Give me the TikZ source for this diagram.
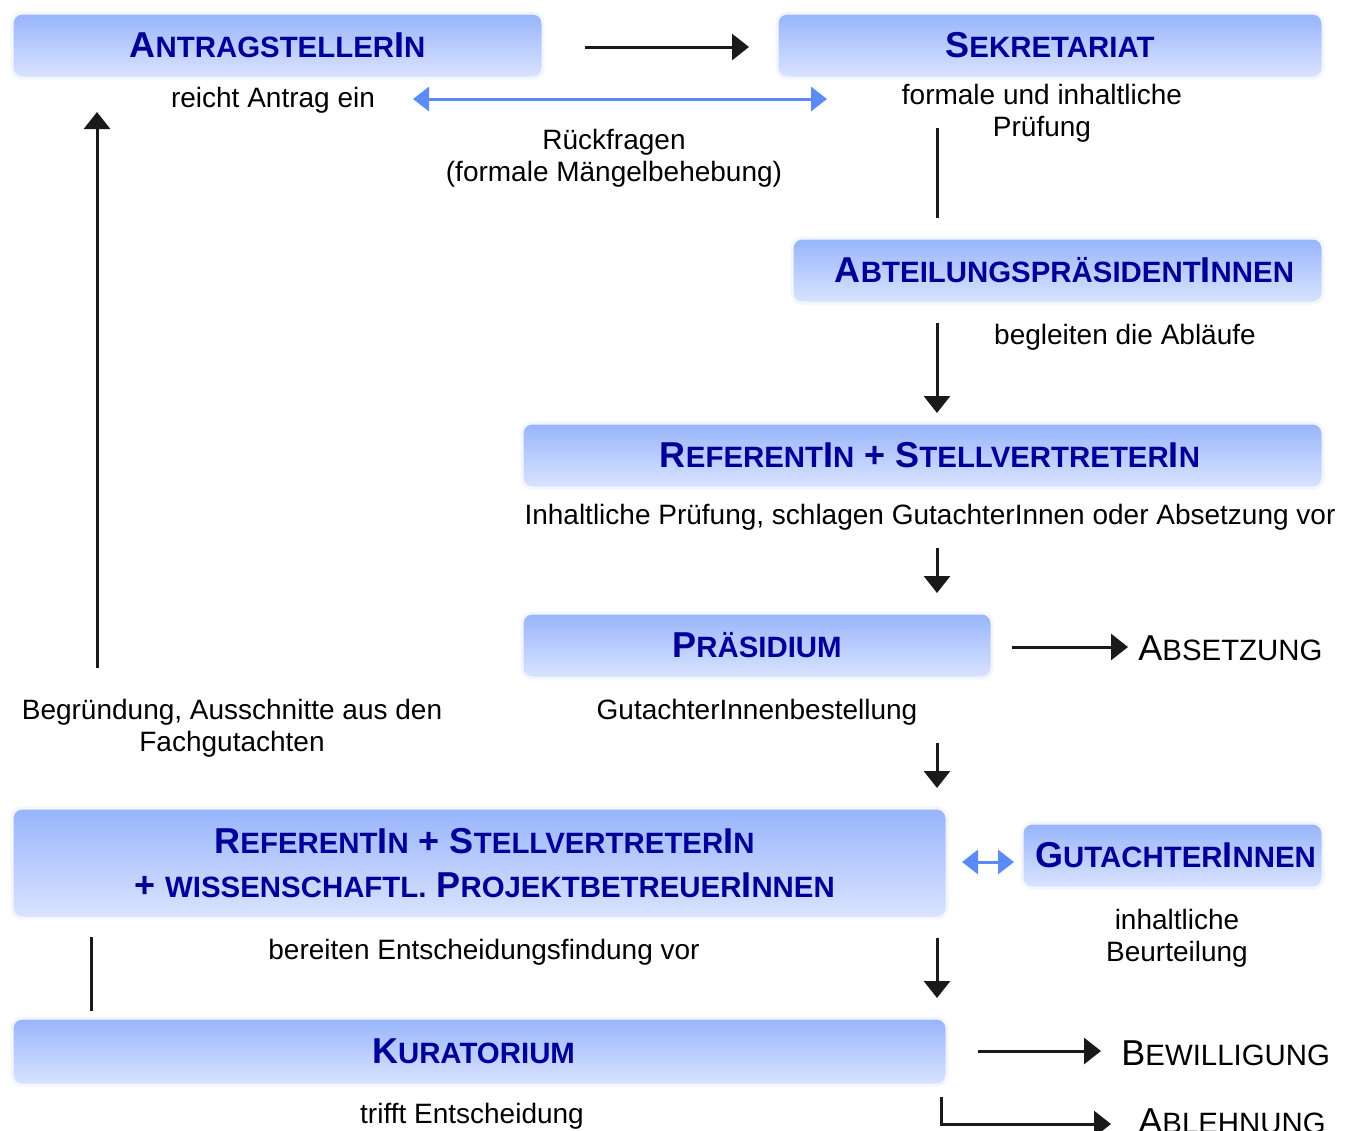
\documentclass[tikz,border=0pt]{standalone}
\usepackage{fontspec}
\setmainfont{Liberation Sans}
\usetikzlibrary{arrows.meta}
\definecolor{boxtop}{HTML}{97B4FC}
\definecolor{boxbot}{HTML}{DAE4FE}
\definecolor{glow}{HTML}{F3F6FE}
\definecolor{titleblue}{HTML}{000099}
\definecolor{arrblue}{HTML}{5B8BF7}
\definecolor{arrblack}{HTML}{1A1A1A}
\newcommand\tsc[1]{{\fontsize{14.7}{16}\selectfont #1}}
\begin{document}
\begin{tikzpicture}[x=0.5pt,y=-0.5pt,
 stage/.style={rounded corners=5pt, top color=boxtop, bottom color=boxbot, draw=glow, line width=1.5pt, text=titleblue, font=\fontsize{18}{22}\selectfont\bfseries, inner sep=0pt, align=center},
 lbl/.style={font=\fontsize{14}{16}\selectfont, align=center, inner sep=0pt},
 outc/.style={font=\fontsize{18}{20}\selectfont, inner sep=0pt, anchor=west},
 flow/.style={draw=arrblack, line width=1.5pt, -{Triangle[length=8.5pt,width=13pt]}},
 plain/.style={draw=arrblack, line width=1.5pt},
 ask/.style={draw=arrblue, line width=1.5pt, {Triangle[length=8pt,width=12pt]}-{Triangle[length=8pt,width=12pt]}}]
\useasboundingbox[fill=white] (0,0) rectangle (1354,1130);

% boxes
\node[stage, minimum width=265.5pt, minimum height=32.5pt] (ant) at (277.5,45.5) {\raisebox{-1pt}{A\tsc{NTRAGSTELLER}I\tsc{N}}};
\node[stage, minimum width=273pt, minimum height=32.5pt] (sek) at (1050,45.5) {\raisebox{-1pt}{S\tsc{EKRETARIAT}}};
\node[stage, minimum width=265.5pt, minimum height=32.5pt] (abt) at (1057.5,270.5) {\hspace*{7pt}\raisebox{-0.5pt}{A\tsc{BTEILUNGSPRÄSIDENT}I\tsc{NNEN}}};
\node[stage, minimum width=400.5pt, minimum height=32.5pt] (ref) at (922.5,455.5) {\hspace*{7.5pt}\raisebox{-2pt}{R\tsc{EFERENT}I\tsc{N} + S\tsc{TELLVERTRETER}I\tsc{N}}};
\node[stage, minimum width=235pt, minimum height=32.5pt] (pra) at (757,645.5) {\raisebox{0.5pt}{P\tsc{RÄSIDIUM}}};
\node[stage, minimum width=467.5pt, minimum height=55pt] (big) at (479.5,863) {\hspace*{5pt}R\tsc{EFERENT}I\tsc{N} + S\tsc{TELLVERTRETER}I\tsc{N}\\\hspace*{5pt}+ \tsc{WISSENSCHAFTL.} P\tsc{ROJEKTBETREUER}I\tsc{NNEN}};
\node[stage, minimum width=150.5pt, minimum height=32.5pt] (gut) at (1172.5,855.5) {\hspace*{3pt}\raisebox{-0.5pt}{G\tsc{UTACHTER}I\tsc{NNEN}}};
\node[stage, minimum width=467.5pt, minimum height=33.5pt] (kur) at (479.5,1051.5) {\hspace*{-6pt}\raisebox{-0.5pt}{K\tsc{URATORIUM}}};

% labels
\node[lbl] (reicht) at (273,100) {reicht Antrag ein};
\node[lbl] (formale) at (1042,113) {formale und inhaltliche\\Prüfung};
\node[lbl] (rueck) at (614,158) {Rückfragen\\(formale Mängelbehebung)};
\node[lbl] (begleit) at (1125,337) {begleiten die Abläufe};
\node[lbl] (inhalt) at (930,517) {Inhaltliche Prüfung, schlagen GutachterInnen oder Absetzung vor};
\node[lbl] (bestell) at (757,712) {GutachterInnenbestellung};
\node[lbl] (begruend) at (232,728) {Begründung, Ausschnitte aus den\\Fachgutachten};
\node[lbl] (bereiten) at (484,952) {bereiten Entscheidungsfindung vor};
\node[lbl] (beurteil) at (1177,938) {inhaltliche\\Beurteilung};
\node[lbl] (trifft) at (472,1116) {trifft Entscheidung};
\node[outc] (abs) at (1138,648) {A\tsc{BSETZUNG}};
\node[outc] (bew) at (1121,1053) {B\tsc{EWILLIGUNG}};
\node[outc] (abl) at (1138,1121) {A\tsc{BLEHNUNG}};

% connector ends
\coordinate (c1a) at (585,47);   \coordinate (c1b) at (749,47);
\coordinate (c2a) at (413,99);   \coordinate (c2b) at (827,99);
\coordinate (c3a) at (937,128);  \coordinate (c3b) at (937,218);
\coordinate (c4a) at (937,323);  \coordinate (c4b) at (937,413);
\coordinate (c5a) at (937,548);  \coordinate (c5b) at (937,593);
\coordinate (c6a) at (1012,647); \coordinate (c6b) at (1128,647);
\coordinate (c7a) at (937,743);  \coordinate (c7b) at (937,788);
\coordinate (c8a) at (962,862);  \coordinate (c8b) at (1014,862);
\coordinate (c9a) at (937,938);  \coordinate (c9b) at (937,998);
\coordinate (c10a) at (91,937);  \coordinate (c10b) at (91,1011);
\coordinate (c11a) at (97,668);  \coordinate (c11b) at (97,112);
\coordinate (c12a) at (978,1051);\coordinate (c12b) at (1101,1051);
\coordinate (c13a) at (941,1097);\coordinate (c13b) at (1111,1124);

\draw[flow] (c1a) -- (c1b);
\draw[ask] (c2a) -- (c2b);
\draw[plain] (c3a) -- (c3b);
\draw[flow] (c4a) -- (c4b);
\draw[flow] (c5a) -- (c5b);
\draw[flow] (c6a) -- (c6b);
\draw[flow] (c7a) -- (c7b);
\draw[ask] (c8a) -- (c8b);
\draw[flow] (c9a) -- (c9b);
\draw[plain] (c10a) -- (c10b);
\draw[flow] (c11a) -- (c11b);
\draw[flow] (c12a) -- (c12b);
\draw[flow] (c13a) |- (c13b);
\end{tikzpicture}
\end{document}
